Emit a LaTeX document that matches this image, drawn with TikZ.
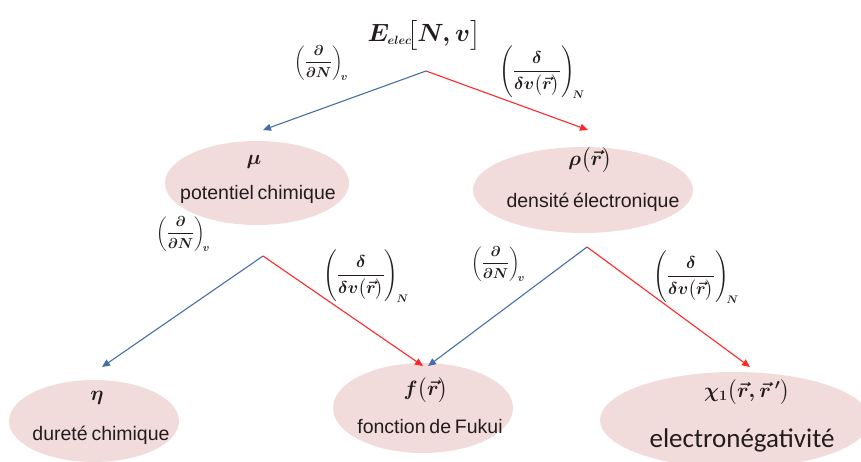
\documentclass[tikz,border=0pt]{standalone}
\usepackage{amsmath}
\usepackage{fontspec}
\setmainfont{Liberation Sans}[WordSpace=0.7]
\newfontfamily\calib{Carlito}
\usetikzlibrary{arrows.meta,shapes.geometric}
\definecolor{ellfill}{RGB}{242,220,219}
\definecolor{bluearr}{RGB}{70,110,170}
\definecolor{redarr}{RGB}{255,40,40}
\definecolor{txt}{RGB}{35,28,28}
\tikzset{
  ell/.style={ellipse, fill=ellfill, draw=none, inner sep=0pt},
  mathlab/.style={text=txt, inner sep=0pt, font=\fontsize{22}{26}\selectfont\boldmath},
  namelab/.style={text=txt, inner sep=0pt, font=\fontsize{19.5}{23}\selectfont},
  dlab/.style={text=txt, inner sep=0pt, font=\fontsize{15.5}{18}\selectfont\boldmath},
  vlab/.style={text=txt, inner sep=0pt, font=\fontsize{16}{19}\selectfont\boldmath},
  bluecon/.style={draw=bluearr, line width=1.1pt, -{Triangle[length=8pt,width=7pt]}},
  redcon/.style={draw=redarr, line width=1.1pt, -{Triangle[length=8pt,width=7pt]}}
}
\begin{document}
\begin{tikzpicture}[x=1pt,y=-1pt]
\useasboundingbox (0,0) rectangle (861,461);
% ellipses
\node[ell, minimum width=184pt, minimum height=84pt] (mu) at (257,183) {};
\node[ell, minimum width=220pt, minimum height=86pt] (rho) at (583,190) {};
\node[ell, minimum width=170pt, minimum height=82pt] (eta) at (94,421) {};
\node[ell, minimum width=180pt, minimum height=90pt] (f) at (423,408) {};
\node[ell, minimum width=270pt, minimum height=96pt] (chi) at (735,420) {};
% title
\node[mathlab, font=\fontsize{24}{28}\selectfont\boldmath] (E) at (424,35) {$E_{\scriptscriptstyle elec}\!\bigl[N,v\bigr]$};
% ellipse texts
\node[mathlab] (mut) at (254,162) {$\mu$};
\node[namelab] (mul) at (258,194) {potentiel chimique};
\node[mathlab] (rhot) at (590,160) {$\rho\bigl(\vec{r}\bigr)$};
\node[namelab] (rhol) at (593,202) {densité électronique};
\node[mathlab] (etat) at (97,398) {$\eta$};
\node[namelab] (etal) at (101,435) {dureté chimique};
\node[mathlab] (ft) at (426,390) {$f\bigl(\vec{r}\bigr)$};
\node[namelab] (fl) at (430,427) {fonction de Fukui};
\node[mathlab] (chit) at (747,392) {$\chi_{1}\bigl(\vec{r},\vec{r}\,'\bigr)$};
\node[text=txt, inner sep=0pt, font=\calib\fontsize{27}{32}\selectfont] (chil) at (742,440) {electronégativité};
% operator labels
\node[dlab] (op1) at (321,63) {$\left(\dfrac{\partial}{\partial N}\right)_{\!v}$};
\node[vlab] (op2) at (542,72) {$\left(\dfrac{\delta}{\delta v\bigl(\vec{r}\bigr)}\right)_{\!N}$};
\node[dlab] (op3) at (183,234) {$\left(\dfrac{\partial}{\partial N}\right)_{\!v}$};
\node[vlab] (op4) at (366,276) {$\left(\dfrac{\delta}{\delta v\bigl(\vec{r}\bigr)}\right)_{\!N}$};
\node[dlab] (op5) at (498,264) {$\left(\dfrac{\partial}{\partial N}\right)_{\!v}$};
\node[vlab] (op6) at (696,277) {$\left(\dfrac{\delta}{\delta v\bigl(\vec{r}\bigr)}\right)_{\!N}$};
% branch points and arrow ends
\coordinate (a1) at (426,71);
\coordinate (a2) at (263,256);
\coordinate (a3) at (587,247);
\coordinate (tmu) at (263,130);
\coordinate (trho) at (588,130);
\coordinate (teta) at (102,367);
\coordinate (tf1) at (423,366);
\coordinate (tf2) at (428,366);
\coordinate (tchi) at (750,367);
% connectors
\draw[bluecon] (a1) -- (tmu);
\draw[redcon] (a1) -- (trho);
\draw[bluecon] (a2) -- (teta);
\draw[redcon] (a2) -- (tf1);
\draw[bluecon] (a3) -- (tf2);
\draw[redcon] (a3) -- (tchi);
\end{tikzpicture}
\end{document}
